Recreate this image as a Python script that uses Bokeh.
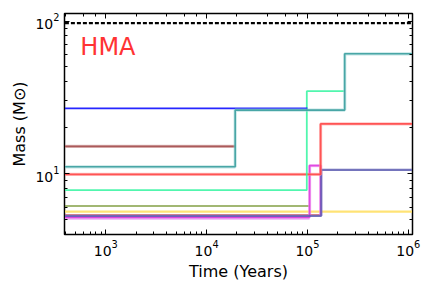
from bokeh.plotting import figure
from bokeh.models import LogAxis, FixedTicker, Label
from bokeh.embed import file_html
from bokeh.resources import INLINE

# ---- data ----
T0, T1 = 100.0, 2.0e6
limit_mass = 97.0

blue_t = [T0, 1.0e5]
blue_m = [26.8, 26.8]

teal_t = [T0, 1.92e4, 1.92e4, 2.34e5, 2.34e5, T1]
teal_m = [11.1, 11.1, 26.1, 26.1, 61.0, 61.0]

mint_t = [T0, 0.985e5, 0.985e5, 2.34e5]
mint_m = [7.8, 7.8, 34.7, 34.7]

brown_t = [T0, 1.92e4]
brown_m = [15.1, 15.1]

red_t = [T0, 1.35e5, 1.35e5, T1]
red_m = [9.9, 9.9, 21.2, 21.2]

olive_t = [T0, 1.05e5]
olive_m = [6.15, 6.15]

yellow_t = [T0, T1]
yellow_m = [5.65, 5.65]

red2_t = [T0, 1.37e5]
red2_m = [5.38, 5.38]

navy_t = [T0, 1.37e5, 1.37e5, T1]
navy_m = [5.3, 5.3, 10.6, 10.6]

magenta_t = [T0, 1.05e5, 1.05e5, 1.35e5, 1.35e5]
magenta_m = [5.2, 5.2, 11.3, 11.3, 5.3]

violet_t = [T0, 1.05e5]
violet_m = [5.1, 5.1]

label_x, label_y = 560, 68

x_range = (390, 1.1e6)
y_range = (4.0, 112)
y_major = [10, 100]
y_minor = [4, 5, 6, 7, 8, 9, 20, 30, 40, 50, 60, 70, 80, 90]

p = figure(x_axis_type="log", y_axis_type="log", x_range=x_range, y_range=y_range,
           width=424, height=284, output_backend="svg", toolbar_location=None,
           min_border_left=64, min_border_right=12, min_border_top=13, min_border_bottom=50)
p.xgrid.visible = False
p.ygrid.visible = False
p.outline_line_color = "black"
p.outline_line_width = 1.5
p.background_fill_color = "white"
p.border_fill_color = "white"

# limit line
p.line([T0, T1], [limit_mass, limit_mass], line_color="black", line_width=2.2, line_dash="4 2")

def draw(t, m, color, width=1.8, alpha=0.85, halo=None):
    if halo:
        p.line(t, m, line_color=halo, line_width=3.2, line_alpha=0.6)
    p.line(t, m, line_color=color, line_width=width, line_alpha=alpha)

draw(yellow_t, yellow_m, "#ffe066", width=2.2, alpha=0.9)
draw(violet_t, violet_m, "#dd77ee", width=2.0)
draw(olive_t, olive_m, "#6b8e23", width=1.6)
draw(red2_t, red2_m, "#e24a4a", width=1.4)
draw(magenta_t, magenta_m, "#dd33dd", width=1.8, halo="#f0a0f0")
draw(navy_t, navy_m, "#5c5cb0", width=2.2)
draw(red_t, red_m, "#ff4040", width=1.8, halo="#ffa0a0")
draw(mint_t, mint_m, "#33f5a0", width=1.8)
draw(brown_t, brown_m, "#a04848", width=1.6, halo="#d09a9a")
draw(blue_t, blue_m, "#0000ff", width=1.6)
draw(teal_t, teal_m, "#339a9a", width=1.6, halo="#9fd6d6")

lbl = Label(x=label_x, y=label_y, text="HMA", text_color="#ff3333", text_font_size="24px",
            text_font="DejaVu Sans", text_baseline="alphabetic")
p.add_layout(lbl)

p.yaxis.ticker = FixedTicker(ticks=y_major, minor_ticks=y_minor)

for ax in (p.xaxis[0], p.yaxis[0]):
    ax.major_tick_in = 5
    ax.major_tick_out = 0
    ax.minor_tick_in = 3
    ax.minor_tick_out = 0
    ax.axis_line_color = "black"
    ax.major_label_text_font = "DejaVu Sans"
    ax.major_label_text_font_size = "14px"
    ax.major_label_text_color = "black"
    ax.axis_label_text_font = "DejaVu Sans"
    ax.axis_label_text_font_size = "16px"
    ax.axis_label_text_font_style = "normal"
    ax.axis_label_text_color = "black"

p.xaxis.axis_label = "Time (Years)"
p.yaxis.axis_label = "Mass (M⊙)"
p.xaxis.major_label_standoff = 5
p.yaxis.major_label_standoff = 5
p.xaxis.axis_label_standoff = 3
p.yaxis.axis_label_standoff = 3

for side in ("right", "above"):
    ax = LogAxis(major_tick_in=5, major_tick_out=0, minor_tick_in=3, minor_tick_out=0,
                 major_label_text_font_size="1px", major_label_text_alpha=0,
                 major_label_standoff=0, axis_line_color="black")
    if side == "right":
        ax.ticker = FixedTicker(ticks=y_major, minor_ticks=y_minor)
    p.add_layout(ax, side)

open("out.html", "w").write(file_html(p, INLINE))
